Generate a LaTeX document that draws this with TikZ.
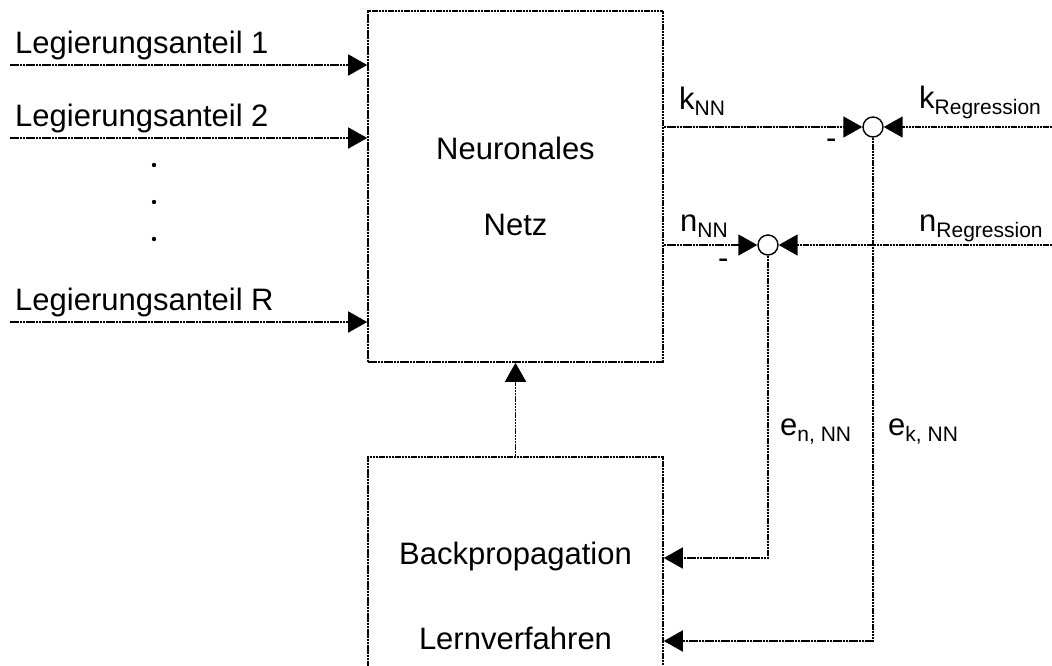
\documentclass[tikz,border=0pt]{standalone}
\usepackage{fontspec}
\setmainfont{Liberation Sans}
\usetikzlibrary{arrows.meta}
\newcommand{\subtxt}[1]{\raisebox{-6pt}{\fontsize{21}{21}\selectfont #1}}

\begin{document}
\begin{tikzpicture}[x=1pt, y=-1pt,
    every node/.style={font=\fontsize{31}{37}\selectfont},
    sig/.style={line width=1.6pt, dash pattern=on 2.5pt off 0.7pt, -{Triangle[length=19pt,width=21pt]}},
    block/.style={draw, line width=1.6pt, dash pattern=on 2.5pt off 0.7pt, minimum width=295pt, align=center},
    sumnode/.style={draw, circle, line width=1.4pt, minimum size=20pt, inner sep=0pt},
    lbl/.style={anchor=base west, inner sep=0pt}]
    \useasboundingbox (0,0) rectangle (1052,665);
    \clip (0,0) rectangle (1052,665);

    % Blocks
    \node[block, minimum height=351pt] (nn) at (515.5,186.5) {Neuronales\\[39pt]Netz};
    \node[block, minimum height=278pt] (bp) at (515.5,596) {Backpropagation\\[48pt]Lernverfahren};
    \draw[sig] (bp.north) -- (nn.south);

    % Inputs
    \foreach \y/\t in {65/1, 138/2, 322/R} {
        \coordinate (in\t) at (10,\y);
        \node[lbl] (leg\t) at (15,\y-12) {Legierungsanteil \t};
        \draw[sig] (in\t) -- (in\t -| nn.west);
    }
    \foreach \y in {165,202,239}
        \fill (154,\y) circle (2.2pt);

    % Comparison points
    \node[sumnode] (sk) at (873,127) {};
    \node[sumnode] (sn) at (768,245) {};
    \coordinate (kreg) at (1052,127);
    \coordinate (nreg) at (1052,245);
    \draw[sig] (nn.east |- sk) -- (sk.west);
    \draw[sig] (kreg) -- (sk.east);
    \draw[sig] (nn.east |- sn) -- (sn.west);
    \draw[sig] (nreg) -- (sn.east);
    \node[lbl] (knn) at (679,109) {k\subtxt{NN}};
    \node[lbl] (kreglbl) at (919,108) {k\subtxt{Regression}};
    \node[lbl] (nnn) at (680,231) {n\subtxt{NN}};
    \node[lbl] (nreglbl) at (919,231) {n\subtxt{Regression}};
    \node[lbl] (kminus) at (826,148) {-};
    \node[lbl] (nminus) at (718,268) {-};

    % Errors back to learning
    \draw[sig] (sn.south) |- ([yshift=38pt]bp.east);
    \draw[sig] (sk.south) |- ([yshift=-45pt]bp.east);
    \node[lbl] (en) at (780,435) {e\subtxt{n, NN}};
    \node[lbl] (ek) at (888,435) {e\subtxt{k, NN}};
\end{tikzpicture}
\end{document}
